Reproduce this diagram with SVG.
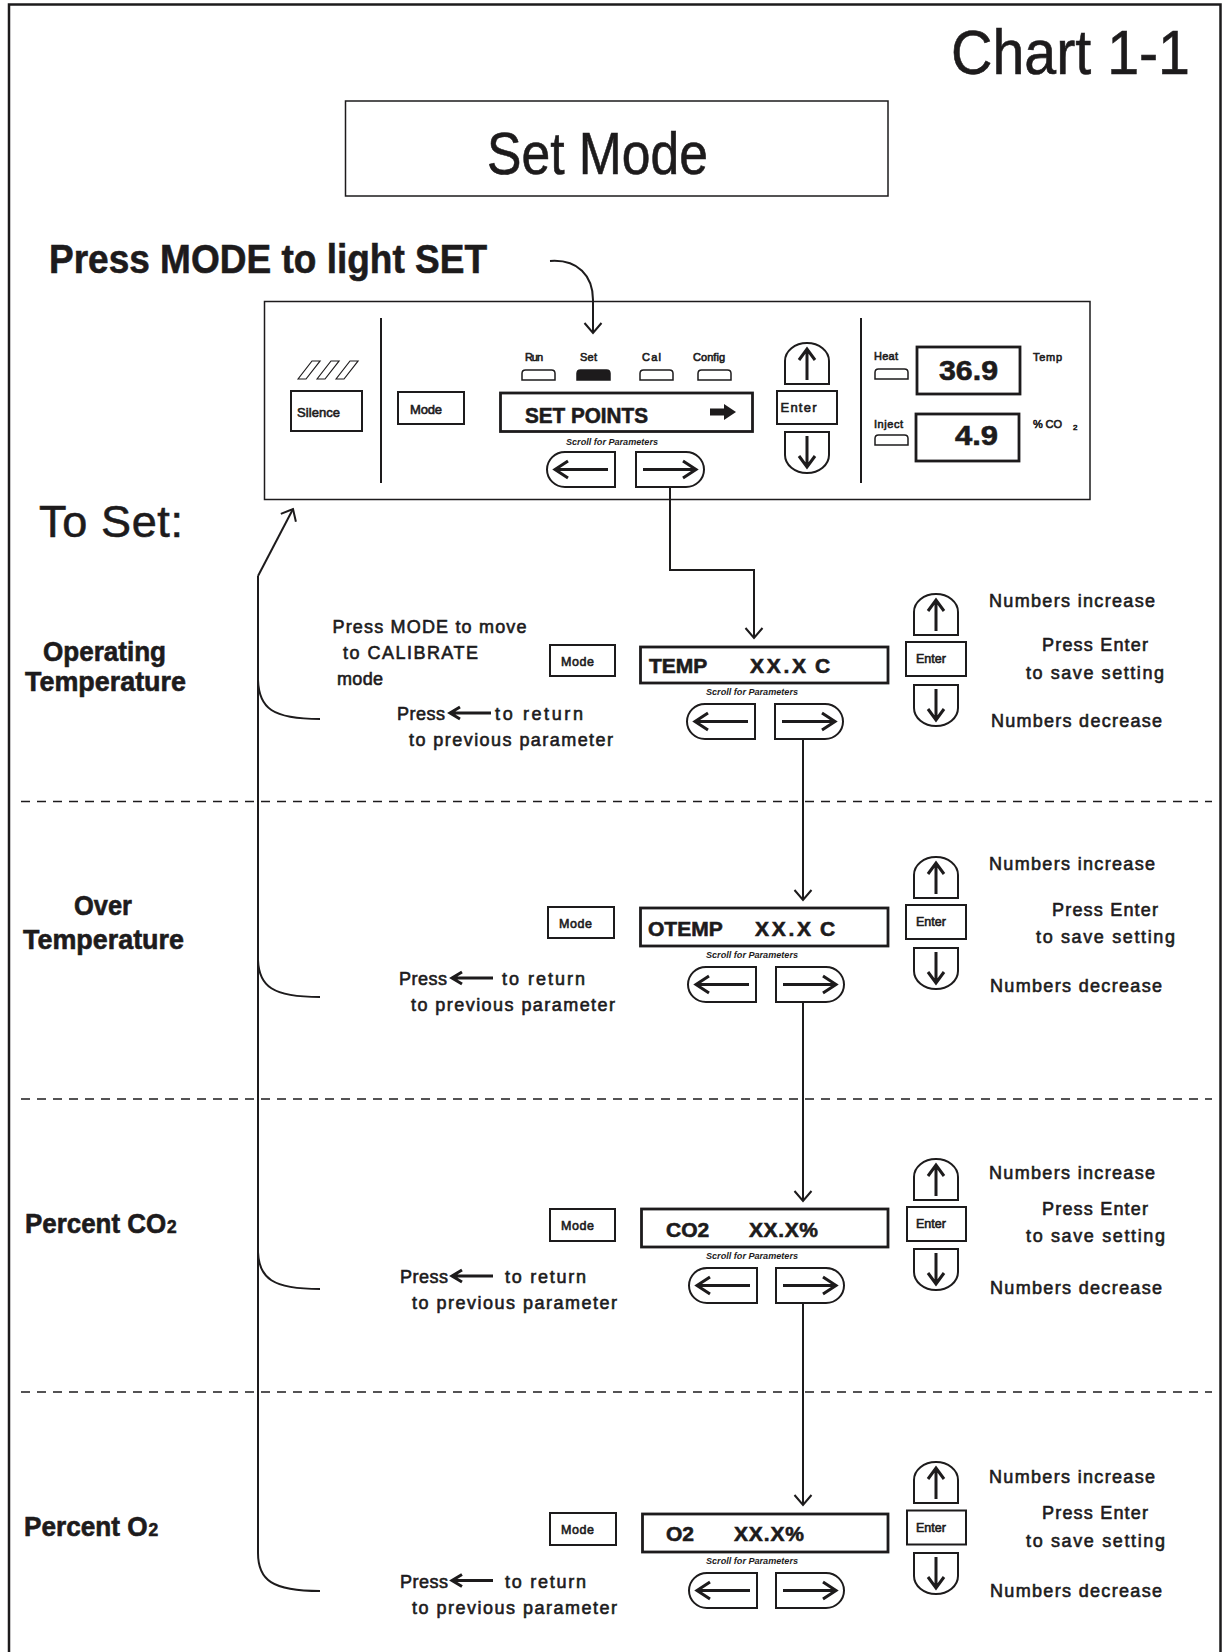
<svg xmlns="http://www.w3.org/2000/svg" width="1222" height="1652" viewBox="0 0 1222 1652">
<style>
text{font-family:"Liberation Sans",Arial,"DejaVu Sans",sans-serif;fill:#1d1b1c}
.b{font-weight:bold;stroke:#1d1b1c;stroke-width:0.6}
.m{stroke:#1d1b1c;stroke-width:0.6}
.i{font-style:italic;font-weight:bold}
.ln{fill:none;stroke:#1d1b1c;stroke-width:2}
.fr{fill:none;stroke:#1d1b1c;stroke-width:2.5}
.bx{fill:#fff;stroke:#1d1b1c;stroke-width:2}
.th{fill:#fff;stroke:#1d1b1c;stroke-width:1.5}
.dp{fill:#fff;stroke:#1d1b1c;stroke-width:2.8}
.aw{fill:none;stroke:#1d1b1c;stroke-width:3;stroke-linejoin:miter}
.dash{fill:none;stroke:#1d1b1c;stroke-width:1.3;stroke-dasharray:9 7}
.led{fill:#fff;stroke:#1d1b1c;stroke-width:1.5}
</style>
<defs>
<marker id="ah" viewBox="-14 -11 16 22" refX="0" refY="0" markerWidth="16" markerHeight="22" markerUnits="userSpaceOnUse" orient="auto">
<path d="M-10,-8.5 L0,0 L-10,8.5" fill="none" stroke="#1d1b1c" stroke-width="2"/>
</marker>
<g id="lb"><path class="bx" d="M68,0 H18 A18,17.5 0 0 0 18,35 H68 Z"/><path class="aw" d="M61,17.5 H8 M21,9 L8,17.5 L21,26"/></g>
<g id="rb"><path class="bx" d="M0,0 H50 A18,17.5 0 0 1 50,35 H0 Z"/><path class="aw" d="M7,17.5 H60 M47,9 L60,17.5 L47,26"/></g>
<g id="ub"><path class="bx" d="M0,41 V18 A22,18 0 0 1 44,18 V41 Z"/><path class="aw" d="M22,37 V7 M14,17 L22,6 L30,17"/></g>
<g id="db"><path class="bx" d="M0,0 V23 A22,18 0 0 0 44,23 V0 Z"/><path class="aw" d="M22,4 V34 M14,24 L22,35 L30,24"/></g>
<path id="sa" class="aw" d="M452,0 H491 M460,-6 L450,0 L460,6"/>
<path id="ledp" d="M0,10 V3.5 Q0,0 3.5,0 H29.5 Q33,0 33,3.5 V10 Z"/>
</defs>

<rect width="1222" height="1652" fill="#fff"/>
<path class="fr" d="M9,1652 V4.5 H1220.5 V1652"/>

<g id="chart-label">
<text x="951" y="74" font-size="63" class="m" stroke-width="1" textLength="239" lengthAdjust="spacingAndGlyphs">Chart 1-1</text>
</g>

<g id="title">
<rect class="th" x="345.5" y="101" width="542.5" height="95"/>
<text x="487" y="174" font-size="59" class="m" stroke-width="1" textLength="221" lengthAdjust="spacingAndGlyphs">Set Mode</text>
</g>

<g id="press-mode-heading">
<text x="49" y="273" font-size="40" class="b" stroke-width="0.9" textLength="438" lengthAdjust="spacingAndGlyphs">Press MODE to light SET</text>
</g>

<g id="panel">
<rect class="th" x="264.5" y="301.5" width="825.5" height="198"/>
<path class="ln" d="M381,318 V483 M861,318 V483" stroke-width="2.5"/>
<path fill="none" stroke="#1d1b1c" stroke-width="1.2" d="M298,379 L312,361 L320,361 L306,379 Z M317,379 L331,361 L339,361 L325,379 Z M336,379 L350,361 L358,361 L344,379 Z"/>
<rect class="bx" x="291" y="391" width="71" height="40"/>
<text x="297" y="417" font-size="13" class="m" stroke-width="0.35" textLength="43">Silence</text>
<rect class="bx" x="398" y="392" width="66" height="32"/>
<text x="410" y="414" font-size="13" class="m" stroke-width="0.35" textLength="32">Mode</text>
<text x="525" y="361" font-size="11" class="m" stroke-width="0.3" textLength="18">Run</text>
<text x="580" y="361" font-size="11" class="m" stroke-width="0.3" textLength="17">Set</text>
<text x="642" y="361" font-size="11" class="m" stroke-width="0.3" textLength="19">Cal</text>
<text x="693" y="361" font-size="11" class="m" stroke-width="0.3" textLength="32">Config</text>
<use href="#ledp" x="522" y="370" class="led"/>
<use href="#ledp" x="577" y="370" fill="#1d1b1c" stroke="#1d1b1c" stroke-width="1.5"/>
<use href="#ledp" x="640" y="370" class="led"/>
<use href="#ledp" x="698" y="370" class="led"/>
<rect class="dp" x="500.5" y="393" width="252" height="38.5" stroke-width="2.5"/>
<text x="525" y="423" font-size="22" class="b" textLength="123" lengthAdjust="spacingAndGlyphs">SET POINTS</text>
<path fill="#1d1b1c" d="M710,408.5 H724 V404 L736,412 L724,420 V415.5 H710 Z"/>
<text x="566" y="445" font-size="9.5" class="i" textLength="92" lengthAdjust="spacingAndGlyphs">Scroll for Parameters</text>
<use href="#lb" x="547" y="452"/>
<use href="#rb" x="636" y="452"/>
<use href="#ub" x="785" y="343"/>
<rect class="bx" x="777" y="391" width="60" height="33"/>
<text x="780.5" y="412" font-size="13" class="m" stroke-width="0.35" textLength="36">Enter</text>
<use href="#db" x="785" y="432"/>
<text x="874" y="360" font-size="11" class="m" stroke-width="0.3" textLength="24">Heat</text>
<use href="#ledp" x="875" y="369" class="led"/>
<rect class="dp" x="917" y="347" width="103" height="47" stroke-width="2.5"/>
<text x="939" y="380" font-size="27" class="b" textLength="59" lengthAdjust="spacingAndGlyphs">36.9</text>
<text x="1033" y="361" font-size="11" class="m" stroke-width="0.3" textLength="29">Temp</text>
<text x="874" y="428" font-size="11" class="m" stroke-width="0.3" textLength="29">Inject</text>
<use href="#ledp" x="875" y="435" class="led"/>
<rect class="dp" x="916" y="414" width="103" height="47" stroke-width="2.5"/>
<text x="955" y="445" font-size="27" class="b" textLength="43" lengthAdjust="spacingAndGlyphs">4.9</text>
<text x="1033" y="428" font-size="11" class="m" stroke-width="0.3" textLength="29">% CO</text>
<text x="1073" y="430" font-size="8" class="m" stroke-width="0.2">2</text>
</g>

<g id="to-set">
<text x="39" y="537" font-size="45" class="m" stroke-width="0.9" textLength="144">To Set:</text>
</g>

<g id="dividers">
<path class="dash" d="M21,801.5 H1212 M21,1099 H1212 M21,1392 H1212"/>
</g>

<g id="sec-operating-temperature">
<text x="43" y="661" font-size="27" class="b" textLength="123" lengthAdjust="spacingAndGlyphs">Operating</text>
<text x="25" y="691" font-size="27" class="b" textLength="161" lengthAdjust="spacingAndGlyphs">Temperature</text>
<text x="332.5" y="633" font-size="18" class="m" textLength="194">Press MODE to move</text>
<text x="343" y="659" font-size="18" class="m" textLength="135">to CALIBRATE</text>
<text x="337" y="685" font-size="18" class="m" textLength="46">mode</text>
<text x="397" y="720" font-size="18" class="m" textLength="48">Press</text>
<use href="#sa" y="713"/>
<text x="495" y="720" font-size="18" class="m" textLength="88">to return</text>
<text x="409" y="746" font-size="18" class="m" textLength="204">to previous parameter</text>
<rect class="bx" x="550" y="645" width="65" height="31"/>
<text x="561" y="666" font-size="12.5" class="m" stroke-width="0.35" textLength="33">Mode</text>
<rect class="dp" x="640.5" y="647" width="247.5" height="36"/>
<text x="649" y="673" font-size="21" class="b">TEMP</text>
<text x="750" y="673" font-size="21" class="b" textLength="56">XX.X</text>
<text x="815" y="673" font-size="21" class="b">C</text>
<text x="706" y="695" font-size="9" class="i" textLength="92" lengthAdjust="spacingAndGlyphs">Scroll for Parameters</text>
<use href="#lb" x="687" y="704"/>
<use href="#rb" x="775" y="704"/>
<use href="#ub" x="914" y="594"/>
<rect class="bx" x="906" y="642" width="60" height="34"/>
<text x="916" y="663" font-size="12.5" class="m" stroke-width="0.35" textLength="30">Enter</text>
<use href="#db" x="914" y="685"/>
<text x="989" y="607" font-size="18" class="m" textLength="166">Numbers increase</text>
<text x="1042" y="651" font-size="18" class="m" textLength="106">Press Enter</text>
<text x="1026" y="678.5" font-size="18" class="m" textLength="138">to save setting</text>
<text x="991" y="727" font-size="18" class="m" textLength="171">Numbers decrease</text>
</g>

<g id="sec-over-temperature">
<text x="74" y="915" font-size="27" class="b" textLength="58" lengthAdjust="spacingAndGlyphs">Over</text>
<text x="23" y="949" font-size="27" class="b" textLength="161" lengthAdjust="spacingAndGlyphs">Temperature</text>
<text x="399" y="985" font-size="18" class="m" textLength="48">Press</text>
<use href="#sa" y="978" x="2"/>
<text x="502" y="985" font-size="18" class="m" textLength="83">to return</text>
<text x="411" y="1011" font-size="18" class="m" textLength="204">to previous parameter</text>
<rect class="bx" x="548" y="907" width="66" height="31"/>
<text x="559" y="928" font-size="12.5" class="m" stroke-width="0.35" textLength="33">Mode</text>
<rect class="dp" x="640.5" y="908" width="247.5" height="38"/>
<text x="648" y="935.5" font-size="21" class="b">OTEMP</text>
<text x="755" y="935.5" font-size="21" class="b" textLength="56">XX.X</text>
<text x="820" y="935.5" font-size="21" class="b">C</text>
<text x="706" y="958" font-size="9" class="i" textLength="92" lengthAdjust="spacingAndGlyphs">Scroll for Parameters</text>
<use href="#lb" x="688" y="967"/>
<use href="#rb" x="776" y="967"/>
<use href="#ub" x="914" y="857"/>
<rect class="bx" x="906" y="905" width="60" height="34"/>
<text x="916" y="926" font-size="12.5" class="m" stroke-width="0.35" textLength="30">Enter</text>
<use href="#db" x="914" y="948"/>
<text x="989" y="870" font-size="18" class="m" textLength="166">Numbers increase</text>
<text x="1052" y="915.5" font-size="18" class="m" textLength="106">Press Enter</text>
<text x="1036" y="943" font-size="18" class="m" textLength="139">to save setting</text>
<text x="990" y="992" font-size="18" class="m" textLength="172">Numbers decrease</text>
</g>

<g id="sec-percent-co2">
<text transform="translate(25,1233) scale(0.96,1)" font-size="27" class="b">Percent CO<tspan font-size="18" dx="1">2</tspan></text>
<text x="400" y="1283" font-size="18" class="m" textLength="48">Press</text>
<use href="#sa" y="1276" x="2"/>
<text x="505" y="1283" font-size="18" class="m" textLength="81">to return</text>
<text x="412" y="1309" font-size="18" class="m" textLength="205">to previous parameter</text>
<rect class="bx" x="550" y="1209" width="65" height="32"/>
<text x="561" y="1230" font-size="12.5" class="m" stroke-width="0.35" textLength="33">Mode</text>
<rect class="dp" x="641.5" y="1209" width="246.5" height="38"/>
<text x="666" y="1237" font-size="21" class="b">CO2</text>
<text x="749" y="1237" font-size="21" class="b" textLength="69">XX.X%</text>
<text x="706" y="1259" font-size="9" class="i" textLength="92" lengthAdjust="spacingAndGlyphs">Scroll for Parameters</text>
<use href="#lb" x="689" y="1268"/>
<use href="#rb" x="776" y="1268"/>
<use href="#ub" x="914" y="1159"/>
<rect class="bx" x="907" y="1207" width="59" height="34"/>
<text x="916" y="1228" font-size="12.5" class="m" stroke-width="0.35" textLength="30">Enter</text>
<use href="#db" x="914" y="1249"/>
<text x="989" y="1179" font-size="18" class="m" textLength="166">Numbers increase</text>
<text x="1042" y="1214.5" font-size="18" class="m" textLength="106">Press Enter</text>
<text x="1026" y="1242" font-size="18" class="m" textLength="139">to save setting</text>
<text x="990" y="1293.5" font-size="18" class="m" textLength="172">Numbers decrease</text>
</g>

<g id="sec-percent-o2">
<text transform="translate(24,1536) scale(0.97,1)" font-size="27" class="b">Percent O<tspan font-size="18" dx="1">2</tspan></text>
<text x="400" y="1587.5" font-size="18" class="m" textLength="48">Press</text>
<use href="#sa" y="1580.5" x="2"/>
<text x="505" y="1587.5" font-size="18" class="m" textLength="81">to return</text>
<text x="412" y="1614" font-size="18" class="m" textLength="205">to previous parameter</text>
<rect class="bx" x="550" y="1513" width="66" height="32"/>
<text x="561" y="1534" font-size="12.5" class="m" stroke-width="0.35" textLength="33">Mode</text>
<rect class="dp" x="642.5" y="1514" width="245.5" height="38"/>
<text x="666" y="1541" font-size="21" class="b">O2</text>
<text x="734" y="1541" font-size="21" class="b" textLength="70">XX.X%</text>
<text x="706" y="1564" font-size="9" class="i" textLength="92" lengthAdjust="spacingAndGlyphs">Scroll for Parameters</text>
<use href="#lb" x="689" y="1573"/>
<use href="#rb" x="776" y="1573"/>
<use href="#ub" x="914" y="1462"/>
<rect class="bx" x="907" y="1510.5" width="59" height="34"/>
<text x="916" y="1531.5" font-size="12.5" class="m" stroke-width="0.35" textLength="30">Enter</text>
<use href="#db" x="914" y="1553"/>
<text x="989" y="1483" font-size="18" class="m" textLength="166">Numbers increase</text>
<text x="1042" y="1519" font-size="18" class="m" textLength="106">Press Enter</text>
<text x="1026" y="1546.5" font-size="18" class="m" textLength="139">to save setting</text>
<text x="990" y="1597" font-size="18" class="m" textLength="172">Numbers decrease</text>
</g>

<g id="connectors">
<path class="ln" d="M550,261 C578,259 593,276 593,300 V333" marker-end="url(#ah)"/>
<path class="ln" d="M670,488 V570 H754 V638" marker-end="url(#ah)"/>
<path class="ln" d="M803,739 V900" marker-end="url(#ah)"/>
<path class="ln" d="M803,1002 V1201" marker-end="url(#ah)"/>
<path class="ln" d="M803,1303 V1505" marker-end="url(#ah)"/>
<path class="ln" d="M258,576 L293,509" marker-end="url(#ah)"/>
<path class="ln" stroke-width="2.3" d="M258,576 V1553 C258,1580 272,1591 320,1591"/>
<path class="ln" stroke-width="2.3" d="M258,680 C259,708 272,719 320,719"/>
<path class="ln" stroke-width="2.3" d="M258,960 C259,986 272,997 320,997"/>
<path class="ln" stroke-width="2.3" d="M258,1252 C259,1278 272,1289 320,1289"/>
</g>
</svg>
